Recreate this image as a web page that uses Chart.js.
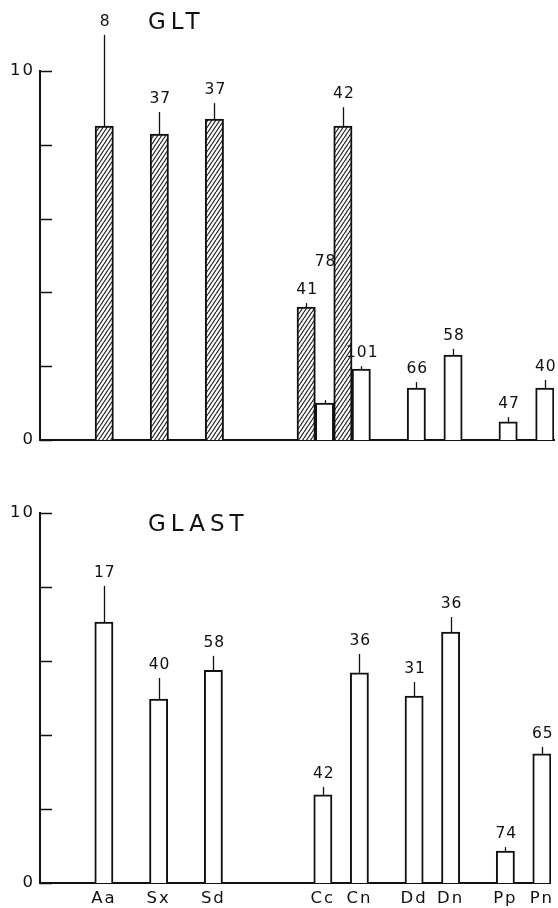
<!DOCTYPE html>
<html>
<head>
<meta charset="utf-8">
<script src="https://cdn.jsdelivr.net/npm/chart.js@4/dist/chart.umd.min.js"></script>
<style>
  body { margin: 0; background: #fff; }
  canvas { display: block; }
</style>
</head>
<body>
<canvas id="glt" width="558" height="470"></canvas>
<canvas id="glast" width="558" height="438"></canvas>
<script>
const categories = ["Aa", "Sx", "Sd", "Cc", "Cn", "Dd", "Dn", "Pp", "Pn"];

// GLT, hatched bars
const gltHatchCats = ["Aa", "Sx", "Sd", "Cc", "Cn"];
const gltHatchMean = [8.51, 8.29, 8.70, 3.60, 8.51];
const gltHatchErr = [2.47, 0.60, 0.43, 0.11, 0.51];
const gltHatchN = [8, 37, 37, 41, 42];

// GLT, open bars
const gltOpenCats = ["Cc", "Cn", "Dd", "Dn", "Pp", "Pn"];
const gltOpenMean = [1.00, 1.92, 1.41, 2.30, 0.49, 1.41];
const gltOpenErr = [0.08, 0.08, 0.16, 0.17, 0.13, 0.22];
const gltOpenN = [78, 101, 66, 58, 47, 40];

// GLAST, open bars
const glastMean = [7.05, 4.97, 5.75, 2.38, 5.68, 5.05, 6.78, 0.86, 3.49];
const glastErr = [0.98, 0.57, 0.39, 0.22, 0.51, 0.38, 0.41, 0.11, 0.19];
const glastN = [17, 40, 58, 42, 36, 31, 36, 74, 65];

const yTicks = [0, 2, 4, 6, 8, 10];
const yLabelled = [0, 10];

// layout: bars sit on a grid of equal slots
const slotOf = [3, 6, 9, 15, 17, 20, 22, 25, 27];
const nSlots = 28;
const slotLabels = new Array(nSlots).fill("");
categories.forEach((c, i) => { slotLabels[slotOf[i]] = c; });

function toSlots(cats, vals, shiftFn) {
  const out = new Array(nSlots).fill(null);
  cats.forEach((c, i) => {
    const s = slotOf[categories.indexOf(c)] + (shiftFn ? shiftFn(c) : 0);
    out[s] = vals[i];
  });
  return out;
}

// steep hatch pattern
function hatch() {
  const c = document.createElement("canvas");
  c.width = 4; c.height = 6;
  const g = c.getContext("2d");
  g.fillStyle = "#fff";
  g.fillRect(0, 0, 4, 6);
  g.strokeStyle = "#222";
  g.lineWidth = 1.2;
  g.beginPath();
  g.moveTo(0, 6); g.lineTo(4, 0);
  g.moveTo(-4, 6); g.lineTo(0, 0);
  g.moveTo(4, 6); g.lineTo(8, 0);
  g.stroke();
  return g.createPattern(c, "repeat");
}

const marks = {
  id: "marks",
  beforeDraw(chart) {
    chart.ctx.letterSpacing = "2px";
  },
  afterDatasetsDraw(chart, args, opts) {
    const ctx = chart.ctx;
    const y = chart.scales.y;
    const area = chart.chartArea;
    ctx.save();
    ctx.strokeStyle = "#111";
    ctx.fillStyle = "#111";

    // inward tick marks on y axis
    ctx.lineWidth = 1.5;
    yTicks.forEach(v => {
      const py = Math.round(y.getPixelForValue(v)) + 0.5;
      ctx.beginPath();
      ctx.moveTo(area.left, py);
      ctx.lineTo(area.left + 12, py);
      ctx.stroke();
    });

    // error bars and n labels
    ctx.font = "15.5px 'DejaVu Sans'";
    ctx.letterSpacing = "1px";
    ctx.textAlign = "center";
    ctx.textBaseline = "bottom";
    chart.data.datasets.forEach((ds, d) => {
      const meta = chart.getDatasetMeta(d);
      ds.data.forEach((v, i) => {
        if (v == null) return;
        const bar = meta.data[i];
        const x = Math.round(bar.x) + 0.5;
        const yTop = y.getPixelForValue(v + ds.err[i]);
        ctx.lineWidth = 1.3;
        ctx.beginPath();
        ctx.moveTo(x, bar.y);
        ctx.lineTo(x, yTop);
        ctx.stroke();
        const lift = ds.labelLift ? ds.labelLift[i] || 0 : 0;
        ctx.fillText(String(ds.n[i]), bar.x + 1, yTop - 5 - lift);
      });
    });

    // panel title
    ctx.font = "23px 'DejaVu Sans'";
    ctx.letterSpacing = "5px";
    ctx.textAlign = "left";
    ctx.textBaseline = "middle";
    ctx.fillText(opts.title, opts.titleX, opts.titleY);
    ctx.restore();
  }
};

function options(title, titleY, padTop, xHeight, showX) {
  return {
    responsive: false,
    devicePixelRatio: 1,
    animation: false,
    layout: { padding: { top: padTop, right: 4, left: 0, bottom: 0 } },
    plugins: {
      legend: { display: false },
      tooltip: { enabled: false },
      marks: { title: title, titleX: 148, titleY: titleY }
    },
    scales: {
      x: {
        type: "category",
        grid: { display: false, drawTicks: false },
        border: { display: true, color: "#111", width: 2 },
        ticks: {
          display: showX, autoSkip: false, maxRotation: 0, padding: 6,
          color: "#111", font: { family: "DejaVu Sans", size: 16.5 }
        },
        afterFit: s => { s.height = xHeight; }
      },
      y: {
        min: 0, max: 10,
        grid: { display: false, drawTicks: false },
        border: { display: true, color: "#111", width: 2 },
        ticks: {
          stepSize: 2, padding: 5, color: "#111",
          font: { family: "DejaVu Sans", size: 16.5 },
          callback: v => yLabelled.includes(v) ? String(v) : ""
        },
        afterFit: s => { s.width = 40; }
      }
    }
  };
}

const barStyle = {
  borderColor: "#111",
  borderWidth: 2,
  barPercentage: 1,
  categoryPercentage: 1,
  grouped: false
};

const hatchShift = c => gltOpenCats.includes(c) ? -1 : 0;
const openLift = toSlots(["Cc"], [125]);

new Chart(document.getElementById("glt"), {
  type: "bar",
  data: {
    labels: slotLabels,
    datasets: [
      Object.assign({
        data: toSlots(gltHatchCats, gltHatchMean, hatchShift),
        err: toSlots(gltHatchCats, gltHatchErr, hatchShift),
        n: toSlots(gltHatchCats, gltHatchN, hatchShift),
        backgroundColor: hatch()
      }, barStyle),
      Object.assign({
        data: toSlots(gltOpenCats, gltOpenMean),
        err: toSlots(gltOpenCats, gltOpenErr),
        n: toSlots(gltOpenCats, gltOpenN),
        labelLift: openLift,
        backgroundColor: "#fff"
      }, barStyle)
    ]
  },
  options: options("GLT", 23, 71, 30, false),
  plugins: [marks]
});

new Chart(document.getElementById("glast"), {
  type: "bar",
  data: {
    labels: slotLabels,
    datasets: [
      Object.assign({
        data: toSlots(categories, glastMean),
        err: toSlots(categories, glastErr),
        n: toSlots(categories, glastN),
        backgroundColor: "#fff"
      }, barStyle)
    ]
  },
  options: options("GLAST", 55, 43, 25, true),
  plugins: [marks]
});
</script>
</body>
</html>
